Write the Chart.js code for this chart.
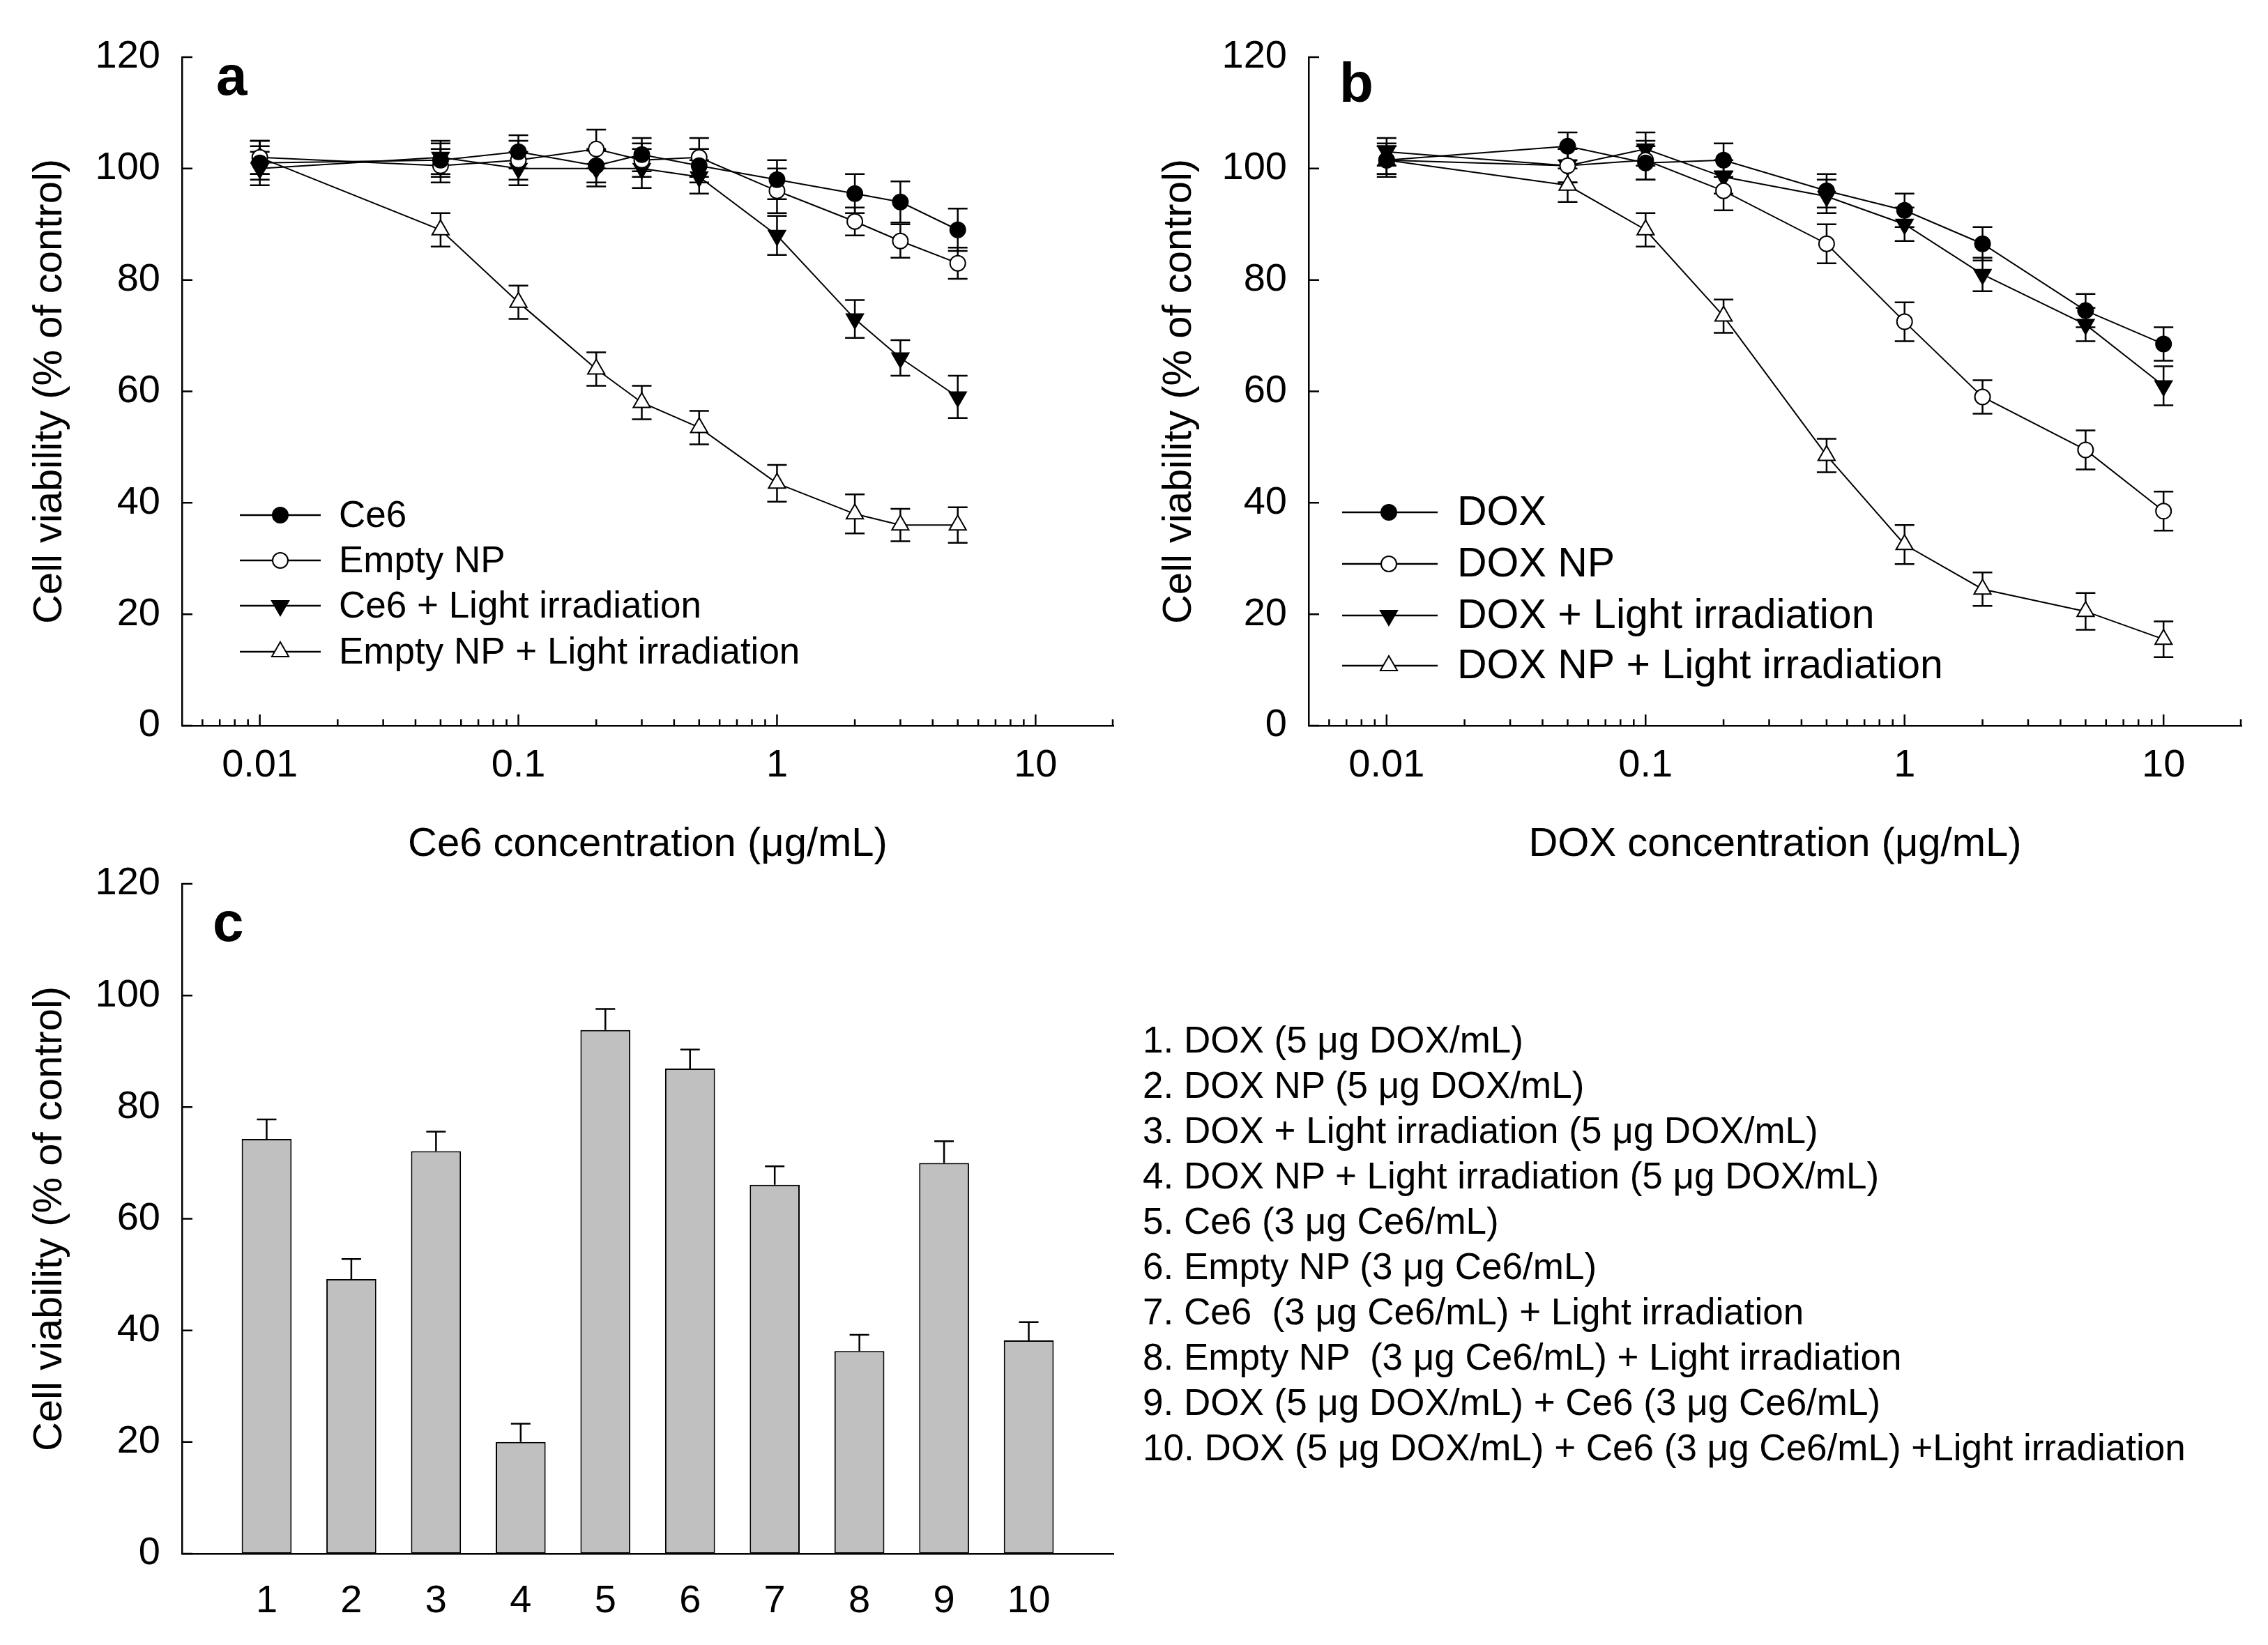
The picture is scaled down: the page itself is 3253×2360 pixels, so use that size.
<!DOCTYPE html>
<html>
<head>
<meta charset="utf-8">
<title>Cell viability</title>
<script src="https://cdn.jsdelivr.net/npm/chart.js@4.4.1/dist/chart.umd.min.js"></script>
<style>
  html, body { margin: 0; padding: 0; background: #fff; }
  body { width: 3253px; height: 2360px; position: relative; overflow: hidden; font-family: 'Liberation Sans', Arial, sans-serif; }
  .panel { position: absolute; }
  #panelA { left: 0; top: 0; width: 1640px; height: 1260px; }
  #panelB { left: 1620px; top: 0; width: 1633px; height: 1260px; }
  #panelC { left: 0; top: 1190px; width: 1640px; height: 1170px; }
  #groupList { position: absolute; left: 1639px; top: 1459px; font-size: 53px; line-height: 65px; white-space: pre; color: #000; }
</style>
</head>
<body>
<div class="panel" id="panelA"><canvas id="chartA"></canvas></div>
<div class="panel" id="panelB"><canvas id="chartB"></canvas></div>
<div class="panel" id="panelC"><canvas id="chartC"></canvas></div>
<div id="groupList"></div>
<script>
// Panel a - Ce6 dose response
const ce6Conc = [0.01, 0.05, 0.1, 0.2, 0.3, 0.5, 1, 2, 3, 5];
const ce6Only = [101, 101.5, 103, 100.5, 102.5, 100.5, 98, 95.5, 94, 89];
const ce6OnlyErr = [3, 3, 3, 3, 3, 3, 3.5, 3.5, 3.7, 3.8];
const emptyNp = [102, 100.5, 101.5, 103.5, 101.5, 102, 96, 90.5, 87, 83];
const emptyNpErr = [3, 3, 3.5, 3.5, 3, 3.5, 4, 2.5, 3, 2.8];
const ce6Light = [100, 102, 100, 100, 100, 98.5, 88, 73, 66, 59];
const ce6LightErr = [3, 3, 3, 3.2, 3.5, 3, 3.5, 3.4, 3.2, 3.8];
const emptyNpLight = [102, 89, 76, 64, 58, 53.5, 43.5, 38, 36, 36];
const emptyNpLightErr = [3, 3, 3, 3, 3, 3, 3.3, 3.5, 2.9, 3.2];
const namesA = ['Ce6', 'Empty NP', 'Ce6 + Light irradiation', 'Empty NP + Light irradiation'];

// Panel b - DOX dose response
const doxConc = [0.01, 0.05, 0.1, 0.2, 0.5, 1, 2, 5, 10];
const dox = [101.5, 104, 101, 101.5, 96, 92.5, 86.5, 74.5, 68.5];
const doxErr = [2.5, 2.5, 3, 3, 3, 3, 3, 3, 3];
const doxNp = [101.5, 100.5, 101.5, 96, 86.5, 72.5, 59, 49.5, 38.5];
const doxNpErr = [3, 3, 3.5, 3.5, 3.5, 3.5, 3, 3.5, 3.5];
const doxLight = [103, 100.5, 103.5, 98.5, 95, 90, 81, 72, 61];
const doxLightErr = [2.5, 3, 3, 3, 3, 3, 3, 3, 3.5];
const doxNpLight = [101.5, 97, 89, 73.5, 48.5, 32.5, 24.5, 20.5, 15.5];
const doxNpLightErr = [2.5, 3, 3, 3, 3, 3.5, 3, 3.3, 3.2];
const namesB = ['DOX', 'DOX NP', 'DOX + Light irradiation', 'DOX NP + Light irradiation'];

const xTickValues = [0.01, 0.1, 1, 10];

// Panel c - single dose comparison
const groupNumbers = [1, 2, 3, 4, 5, 6, 7, 8, 9, 10];
const groupViability = [74.3, 49.2, 72.1, 20, 93.8, 86.9, 66.1, 36.3, 70, 38.2];
const groupErr = [3.5, 3.6, 3.5, 3.3, 3.8, 3.4, 3.3, 2.9, 3.9, 3.3];
const groupLabels = [
  '1. DOX (5 μg DOX/mL)',
  '2. DOX NP (5 μg DOX/mL)',
  '3. DOX + Light irradiation (5 μg DOX/mL)',
  '4. DOX NP + Light irradiation (5 μg DOX/mL)',
  '5. Ce6 (3 μg Ce6/mL)',
  '6. Empty NP (3 μg Ce6/mL)',
  '7. Ce6  (3 μg Ce6/mL) + Light irradiation',
  '8. Empty NP  (3 μg Ce6/mL) + Light irradiation',
  '9. DOX (5 μg DOX/mL) + Ce6 (3 μg Ce6/mL)',
  '10. DOX (5 μg DOX/mL) + Ce6 (3 μg Ce6/mL) +Light irradiation'
];

const yTitle = 'Cell viability (% of control)';

Chart.defaults.font.family = "'Liberation Sans', Arial, sans-serif";
Chart.defaults.color = '#000';
Chart.defaults.animation = false;

// marker look for the four series, in legend order
const markerStyles = [
  { pointStyle: 'circle', pointBackgroundColor: '#000', pointRadius: 11, pointRotation: 0 },
  { pointStyle: 'circle', pointBackgroundColor: '#fff', pointRadius: 11, pointRotation: 0 },
  { pointStyle: 'triangle', pointBackgroundColor: '#000', pointRadius: 14, pointRotation: 180 },
  { pointStyle: 'triangle', pointBackgroundColor: '#fff', pointRadius: 14, pointRotation: 0 }
];

function makeSeries(label, xs, ys, errs, idx) {
  return Object.assign({
    label: label,
    data: xs.map((x, i) => ({ x: x, y: ys[i] })),
    errors: errs,
    borderColor: '#000',
    borderWidth: 2,
    pointBorderColor: '#000',
    pointBorderWidth: 2,
    tension: 0
  }, markerStyles[idx]);
}

// Error bars, drawn under the markers
const errorBars = {
  id: 'errorBars',
  beforeDatasetsDraw(chart) {
    const ctx = chart.ctx;
    const xs = chart.scales.x, ys = chart.scales.y;
    ctx.save();
    ctx.strokeStyle = '#000';
    ctx.lineWidth = 2.5;
    chart.data.datasets.forEach(ds => {
      if (!ds.errors) return;
      ds.data.forEach((pt, i) => {
        const e = ds.errors[i];
        const px = xs.getPixelForValue(pt.x);
        const top = ys.getPixelForValue(pt.y + e);
        const bot = ys.getPixelForValue(ds.errorsUpOnly ? pt.y : pt.y - e);
        const half = 14;
        ctx.beginPath();
        ctx.moveTo(px, top); ctx.lineTo(px, bot);
        ctx.moveTo(px - half, top); ctx.lineTo(px + half, top);
        if (!ds.errorsUpOnly) { ctx.moveTo(px - half, bot); ctx.lineTo(px + half, bot); }
        ctx.stroke();
      });
    });
    ctx.restore();
  }
};

// Tick marks pointing into the plot
const innerTicks = {
  id: 'innerTicks',
  afterDatasetsDraw(chart) {
    const { ctx, chartArea: area } = chart;
    const xs = chart.scales.x, ys = chart.scales.y;
    ctx.save();
    ctx.strokeStyle = '#000';
    ctx.lineWidth = 2.5;
    ctx.beginPath();
    ys.ticks.forEach(t => {
      const py = ys.getPixelForValue(t.value);
      ctx.moveTo(area.left, py); ctx.lineTo(area.left + 15, py);
    });
    if (xs.type === 'logarithmic') {
      for (let d = Math.floor(Math.log10(xs.min)); d <= Math.ceil(Math.log10(xs.max)); d++) {
        for (let k = 1; k <= 9; k++) {
          const v = k * Math.pow(10, d);
          if (v <= xs.min * 1.0001 || v > xs.max * 1.0001) continue;
          const px = Math.min(xs.getPixelForValue(v), area.right - 1);
          ctx.moveTo(px, area.bottom); ctx.lineTo(px, area.bottom - (k === 1 ? 16 : 9));
        }
      }
    }
    ctx.stroke();
    ctx.restore();
  }
};

function drawMarker(ctx, ds, x, y) {
  const r = ds.pointRadius;
  ctx.beginPath();
  if (ds.pointStyle === 'circle') {
    ctx.arc(x, y, r, 0, Math.PI * 2);
  } else {
    const s = ds.pointRotation === 180 ? -1 : 1;
    ctx.moveTo(x, y - s * r);
    ctx.lineTo(x + r * 0.866, y + s * r * 0.5);
    ctx.lineTo(x - r * 0.866, y + s * r * 0.5);
    ctx.closePath();
  }
  ctx.fillStyle = ds.pointBackgroundColor;
  ctx.fill();
  ctx.lineWidth = ds.pointBorderWidth;
  ctx.strokeStyle = '#000';
  ctx.stroke();
}

// Legend inside the plot, lower left
const markerLegend = {
  id: 'markerLegend',
  afterDraw(chart, args, opts) {
    if (!opts.rows) return;
    const { ctx, chartArea: area } = chart;
    ctx.save();
    chart.data.datasets.forEach((ds, i) => {
      const y = area.top + opts.rows[i];
      ctx.beginPath();
      ctx.moveTo(area.left + opts.lineFrom, y);
      ctx.lineTo(area.left + opts.lineTo, y);
      ctx.lineWidth = 2.5;
      ctx.strokeStyle = '#000';
      ctx.stroke();
      drawMarker(ctx, ds, area.left + opts.marker, y);
      ctx.fillStyle = '#000';
      ctx.font = opts.size + "px 'Liberation Sans', Arial, sans-serif";
      ctx.textBaseline = 'middle';
      ctx.textAlign = 'left';
      ctx.fillText(ds.label, area.left + opts.text, y + 2);
    });
    ctx.restore();
  }
};

const panelLetter = {
  id: 'panelLetter',
  afterDraw(chart, args, opts) {
    if (!opts.text) return;
    const { ctx, chartArea: area } = chart;
    ctx.save();
    ctx.fillStyle = '#000';
    ctx.font = "bold 80px 'Liberation Sans', Arial, sans-serif";
    ctx.textBaseline = 'alphabetic';
    ctx.fillText(opts.text, area.left + opts.dx, area.top + opts.dy);
    ctx.restore();
  }
};

function yScale(width) {
  return {
    min: 0, max: 120,
    grid: { display: false, drawTicks: false },
    border: { display: true, color: '#000', width: 2.5 },
    afterFit: s => { s.width = width; },
    ticks: { stepSize: 20, padding: 31, font: { size: 56 } },
    title: { display: true, text: yTitle, font: { size: 58 }, padding: { top: 37, bottom: 0 } }
  };
}

function logXScale(title) {
  return {
    type: 'logarithmic', min: 0.005, max: 20,
    grid: { display: false, drawTicks: false },
    border: { display: true, color: '#000', width: 2.5 },
    afterBuildTicks: s => { s.ticks = xTickValues.map(v => ({ value: v })); },
    afterFit: s => { s.height = 219; },
    ticks: { autoSkip: false, maxRotation: 0, padding: 24, font: { size: 56 }, callback: v => String(v) },
    title: { display: true, text: title, font: { size: 58 }, padding: { top: 0, bottom: 13 } }
  };
}

function doseChart(id, title, datasets, yWidth, padRight, legendOpts, letterOpts) {
  return new Chart(document.getElementById(id), {
    type: 'line',
    data: { datasets: datasets },
    options: {
      responsive: true,
      maintainAspectRatio: false,
      layout: { padding: { left: 0, top: 82, right: padRight, bottom: 0 } },
      scales: { x: logXScale(title), y: yScale(yWidth) },
      plugins: {
        legend: { display: false },
        tooltip: { enabled: false },
        markerLegend: legendOpts,
        panelLetter: letterOpts
      }
    },
    plugins: [errorBars, innerTicks, markerLegend, panelLetter]
  });
}

doseChart('chartA', 'Ce6 concentration (μg/mL)', [
  makeSeries(namesA[0], ce6Conc, ce6Only, ce6OnlyErr, 0),
  makeSeries(namesA[1], ce6Conc, emptyNp, emptyNpErr, 1),
  makeSeries(namesA[2], ce6Conc, ce6Light, ce6LightErr, 2),
  makeSeries(namesA[3], ce6Conc, emptyNpLight, emptyNpLightErr, 3)
], 261, 43,
  { lineFrom: 83, lineTo: 199, marker: 141, text: 225, rows: [657, 722, 787, 853], size: 53 },
  { text: 'a', dx: 49, dy: 54 });

doseChart('chartB', 'DOX concentration (μg/mL)', [
  makeSeries(namesB[0], doxConc, dox, doxErr, 0),
  makeSeries(namesB[1], doxConc, doxNp, doxNpErr, 1),
  makeSeries(namesB[2], doxConc, doxLight, doxLightErr, 2),
  makeSeries(namesB[3], doxConc, doxNpLight, doxNpLightErr, 3)
], 257, 38,
  { lineFrom: 48, lineTo: 185, marker: 115, text: 213, rows: [653, 727, 801, 873], size: 59 },
  { text: 'b', dx: 44, dy: 64 });

new Chart(document.getElementById('chartC'), {
  type: 'bar',
  data: {
    datasets: [{
      data: groupNumbers.map((g, i) => ({ x: g, y: groupViability[i] })),
      errors: groupErr,
      errorsUpOnly: true,
      backgroundColor: '#c0c0c0',
      borderColor: '#000',
      borderWidth: 2,
      borderSkipped: false,
      barPercentage: 0.59,
      categoryPercentage: 1
    }]
  },
  options: {
    responsive: true,
    maintainAspectRatio: false,
    layout: { padding: { left: 0, top: 78, right: 43, bottom: 0 } },
    scales: {
      x: {
        type: 'linear', min: 0, max: 11, offset: false,
        grid: { display: false, drawTicks: false },
        border: { display: true, color: '#000', width: 2.5 },
        afterBuildTicks: s => { s.ticks = groupNumbers.map(v => ({ value: v })); },
        afterFit: s => { s.height = 131; },
        ticks: { autoSkip: false, maxRotation: 0, padding: 35, font: { size: 56 } }
      },
      y: yScale(261)
    },
    plugins: {
      legend: { display: false },
      tooltip: { enabled: false },
      panelLetter: { text: 'c', dx: 44, dy: 82 }
    }
  },
  plugins: [errorBars, innerTicks, panelLetter]
});

document.getElementById('groupList').textContent = groupLabels.join('\n');
</script>
</body>
</html>
